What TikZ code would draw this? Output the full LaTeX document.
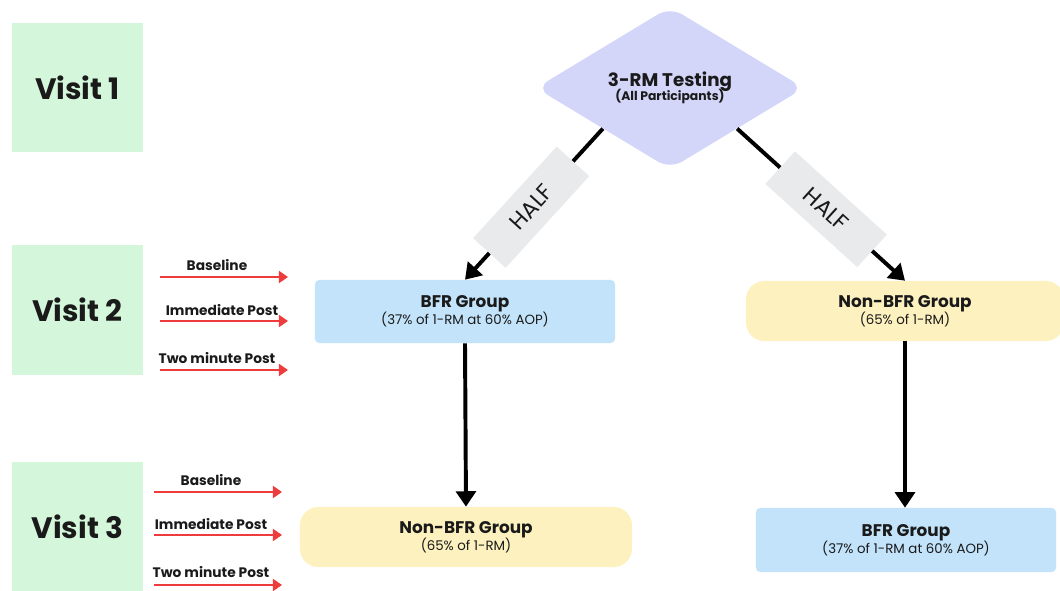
\documentclass[tikz,border=0pt]{standalone}
\usepackage{fontspec}
\setmainfont{Poppins}
\usetikzlibrary{shapes.geometric}
\usetikzlibrary{arrows.meta}
\definecolor{visitgreen}{HTML}{D4F7DC}
\definecolor{testlilac}{HTML}{D3D5F9}
\definecolor{bfrblue}{HTML}{C2E3FA}
\definecolor{nonyellow}{HTML}{FDF1BF}
\definecolor{halfgray}{HTML}{E8EAEC}
\definecolor{tagred}{HTML}{EE3B3B}
\definecolor{ink}{HTML}{1A1A1A}
\tikzset{
    every node/.style={text=ink},
    visit/.style={
        fill=visitgreen,
        minimum width=3.275cm,
        minimum height=3.225cm,
        font=\fontsize{21}{24}\selectfont\bfseries},
    test/.style={
        diamond,
        fill=testlilac,
        rounded corners=10pt,
        inner sep=0pt,
        minimum width=6.7cm,
        minimum height=4.05cm,
        align=center},
    bfr/.style={
        fill=bfrblue,
        rounded corners=3pt,
        minimum width=7.5cm,
        minimum height=1.575cm,
        align=center},
    nonbfr/.style={
        fill=nonyellow,
        rounded corners=13pt,
        minimum height=1.5cm,
        align=center},
    half/.style={
        fill=halfgray,
        sloped,
        minimum width=3.1cm,
        minimum height=1.1cm,
        font=\fontsize{16}{18}\selectfont},
    tag/.style={
        font=\fontsize{9.8}{11}\selectfont\bfseries,
        inner sep=1pt},
    flow/.style={
        draw=black,
        line width=2.8pt,
        -{Triangle[length=11pt,width=14pt]}},
    redarr/.style={
        draw=tagred,
        line width=2pt,
        -{Triangle[length=6.5pt,width=8.5pt]}}}
\newcommand{\grp}[2]{{\fontsize{12}{15}\selectfont\bfseries #1}\\[-1pt]{\fontsize{9.5}{11}\selectfont #2}}

\begin{document}
\begin{tikzpicture}[x=0.025cm,y=-0.025cm]
        \useasboundingbox (0,0) rectangle (1060,591);

        % visits
        \node[visit] (v1) at (77.5,87.5) {Visit 1};
        \node[visit] (v2) at (77.5,310) {Visit 2};
        \node[visit] (v3) at (77.5,527) {Visit 3};

        % groups
        \node[test] (rm) at (670,88) {{\fontsize{13}{15}\selectfont\bfseries 3-RM Testing}\\[-2pt]{\fontsize{8.8}{10}\selectfont\bfseries (All Participants)}};
        \node[bfr] (bfr1) at (465,311.5) {\grp{BFR Group}{(37\% of 1-RM at 60\% AOP)}};
        \node[nonbfr,minimum width=7.95cm] (non1) at (905,311) {\grp{Non-BFR Group}{(65\% of 1-RM)}};
        \node[nonbfr,minimum width=8.3cm] (non2) at (466,537) {\grp{Non-BFR Group}{(65\% of 1-RM)}};
        \node[bfr,minimum height=1.6cm] (bfr2) at (906,540) {\grp{BFR Group}{(37\% of 1-RM at 60\% AOP)}};

        \draw[flow] (rm.south west) -- node[half,pos=0.52] (hl) {HALF} (bfr1.north);
        \draw[flow] (rm.south east) -- node[half,pos=0.53] (hr) {HALF} (non1.north);
        \draw[flow] (bfr1.south) -- (non2.north);
        \draw[flow] (non1.south) -- (non1.south |- bfr2.north);

        % measurements, visit 2
        \node[tag] (b2) at (217,265) {Baseline};
        \node[tag] (i2) at (222,310) {Immediate Post};
        \node[tag] (t2) at (217,358) {Two minute Post};
        \coordinate (b2a) at (160,277); \coordinate (b2b) at (288,277);
        \coordinate (i2a) at (160,321); \coordinate (i2b) at (288,321);
        \coordinate (t2a) at (160,370); \coordinate (t2b) at (288,370);
        \draw[redarr] (b2a) -- (b2b);
        \draw[redarr] (i2a) -- (i2b);
        \draw[redarr] (t2a) -- (t2b);

        % measurements, visit 3
        \node[tag] (b3) at (211,480) {Baseline};
        \node[tag] (i3) at (211,524) {Immediate Post};
        \node[tag] (t3) at (211,572) {Two minute Post};
        \coordinate (b3a) at (154,492); \coordinate (b3b) at (282,492);
        \coordinate (i3a) at (154,535); \coordinate (i3b) at (282,535);
        \coordinate (t3a) at (154,585); \coordinate (t3b) at (282,585);
        \draw[redarr] (b3a) -- (b3b);
        \draw[redarr] (i3a) -- (i3b);
        \draw[redarr] (t3a) -- (t3b);
\end{tikzpicture}
\end{document}
